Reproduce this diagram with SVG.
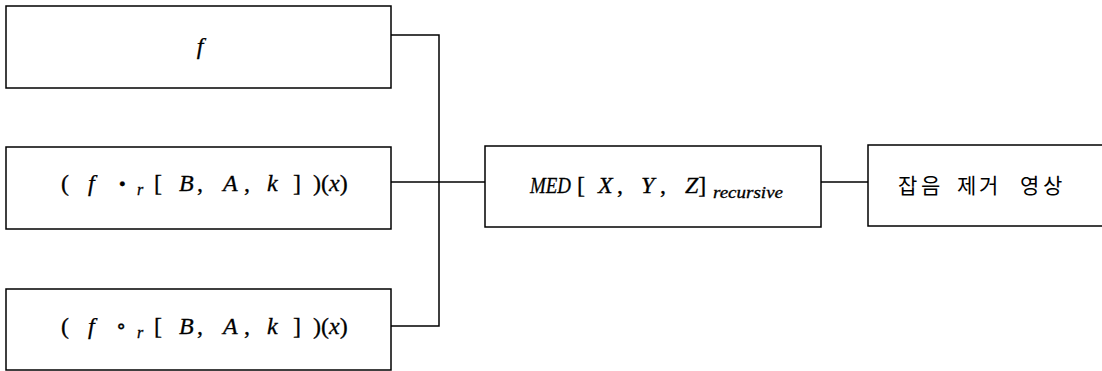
<svg xmlns="http://www.w3.org/2000/svg" width="1102" height="371" viewBox="0 0 1102 371">
  <style>
    .box { fill: #ffffff; stroke: #000000; stroke-width: 1.5; }
    .wire { fill: none; stroke: #000000; stroke-width: 1.5; }
    .math { font-family: "Liberation Serif", "DejaVu Serif", serif; font-size: 24px; fill: #000000; stroke: #000000; stroke-width: 0.3; }
    .it { font-style: italic; }
    .sub { font-size: 16px; font-style: italic; }
    .kr { font-family: "Noto Sans CJK KR", "Noto Sans", sans-serif; font-size: 21px; fill: #000000; }
  </style>
  <rect width="1102" height="371" fill="#ffffff"/>

  <!-- connectors -->
  <g id="connectors">
    <path class="wire" d="M391,35 H439 V326 H391"/>
    <path class="wire" d="M391,182 H485"/>
    <path class="wire" d="M821,182 H868"/>
  </g>

  <!-- input: f -->
  <g id="node-f">
    <rect class="box" x="6" y="6" width="385" height="82"/>
    <text class="math it" x="200" y="54" text-anchor="middle">f</text>
  </g>

  <!-- input: opening by reconstruction -->
  <g id="node-open">
    <rect class="box" x="6" y="147" width="385" height="82"/>
    <text class="math" y="191"><tspan x="61">(</tspan><tspan x="88" class="it">f</tspan><tspan x="119" y="187" font-size="11">●</tspan><tspan x="137" y="195" class="sub">r</tspan><tspan x="154" y="191">[</tspan><tspan x="179" class="it">B</tspan><tspan x="197">,</tspan><tspan x="223" class="it">A</tspan><tspan x="244">,</tspan><tspan x="267" class="it">k</tspan><tspan x="293">]</tspan><tspan x="313">)(</tspan><tspan class="it">x</tspan><tspan>)</tspan></text>
  </g>

  <!-- input: closing by reconstruction -->
  <g id="node-close">
    <rect class="box" x="6" y="289" width="385" height="81"/>
    <text class="math" y="334"><tspan x="116" y="333" font-size="21">∘</tspan><tspan x="61" y="334">(</tspan><tspan x="88" class="it">f</tspan><tspan x="137" y="338" class="sub">r</tspan><tspan x="154" y="334">[</tspan><tspan x="179" class="it">B</tspan><tspan x="197">,</tspan><tspan x="223" class="it">A</tspan><tspan x="244">,</tspan><tspan x="267" class="it">k</tspan><tspan x="293">]</tspan><tspan x="313">)(</tspan><tspan class="it">x</tspan><tspan>)</tspan></text>
  </g>

  <!-- recursive median -->
  <g id="node-med">
    <rect class="box" x="485" y="146" width="336" height="81"/>
    <text class="math" y="193"><tspan x="530" font-style="italic" textLength="41" lengthAdjust="spacingAndGlyphs">MED</tspan><tspan x="577">[</tspan><tspan x="598" font-style="italic">X</tspan><tspan x="617">,</tspan><tspan x="641" font-style="italic">Y</tspan><tspan x="660">,</tspan><tspan x="685" font-style="italic">Z</tspan><tspan>]</tspan><tspan x="713" y="198" class="sub" font-size="15" textLength="70" lengthAdjust="spacingAndGlyphs">recursive</tspan></text>
  </g>

  <!-- output -->
  <g id="node-out">
    <rect class="box" x="868" y="145" width="240" height="81"/>
    <text class="kr" y="193"><tspan x="898">잡</tspan><tspan x="921">음</tspan><tspan x="957">제</tspan><tspan x="979">거</tspan><tspan x="1020">영</tspan><tspan x="1043">상</tspan></text>
  </g>
</svg>
